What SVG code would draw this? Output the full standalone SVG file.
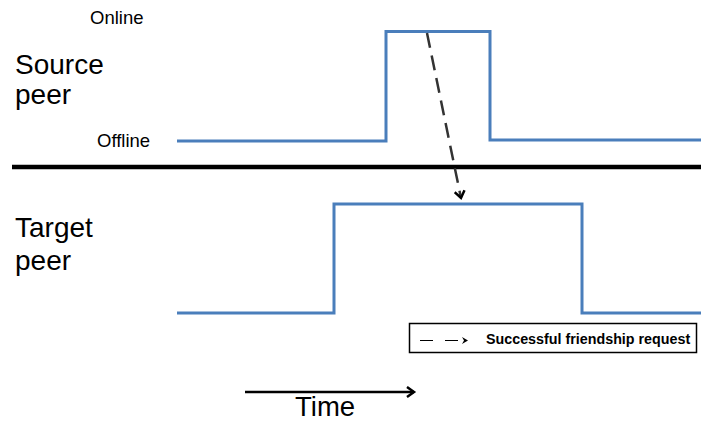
<svg xmlns="http://www.w3.org/2000/svg" width="701" height="422" viewBox="0 0 701 422">
<style>
.wave{fill:none;stroke:#4a7ebb;stroke-width:3}
.lbl{font-family:"Liberation Sans",Arial,sans-serif;fill:#000}
.big{font-size:28px}
.small{font-size:18.5px}
</style>
<defs>
<marker id="ah" markerWidth="12" markerHeight="12" refX="8" refY="6" orient="auto" markerUnits="userSpaceOnUse">
<path d="M1,1 L8,6 L1,11" fill="none" stroke="#000" stroke-width="2.5"/>
</marker>
<marker id="ah2" markerWidth="8" markerHeight="8" refX="5" refY="4" orient="auto" markerUnits="userSpaceOnUse">
<path d="M0,0.5 L6,4 L0,7.5 L2,4 Z" fill="#000"/>
</marker>
</defs>
<g id="source">
<text class="lbl small" x="90" y="24">Online</text>
<text class="lbl big" x="15" y="74">Source</text>
<text class="lbl big" x="15" y="104">peer</text>
<text class="lbl small" x="97" y="147">Offline</text>
<polyline class="wave" points="177,141 386,141 386,31.5 490,31.5 490,140 701,140"/>
</g>
<g id="divider">
<line x1="12" y1="167" x2="701" y2="167" stroke="#000" stroke-width="4.5"/>
</g>
<g id="target">
<text class="lbl big" x="15" y="237">Target</text>
<text class="lbl big" x="15" y="270">peer</text>
<polyline class="wave" points="177,313 334,313 334,204 582,204 582,313 701,313"/>
</g>
<g id="connectors">
<line x1="427" y1="33" x2="461" y2="198" stroke="#333" stroke-width="2.5" stroke-dasharray="15,8" marker-end="url(#ah)"/>
</g>
<g id="legend">
<rect x="409.5" y="323.5" width="287" height="29" fill="#fff" stroke="#000" stroke-width="1.5"/>
<line x1="420" y1="340.5" x2="467" y2="340.5" stroke="#000" stroke-width="1.2" stroke-dasharray="13,12" marker-end="url(#ah2)"/>
<text class="lbl" x="486" y="344" font-size="14.3" font-weight="bold">Successful friendship request</text>
</g>
<g id="time">
<line x1="245" y1="392" x2="414" y2="392" stroke="#000" stroke-width="2.5" marker-end="url(#ah)"/>
<text class="lbl" x="295" y="416" font-size="27.5">Time</text>
</g>
</svg>
